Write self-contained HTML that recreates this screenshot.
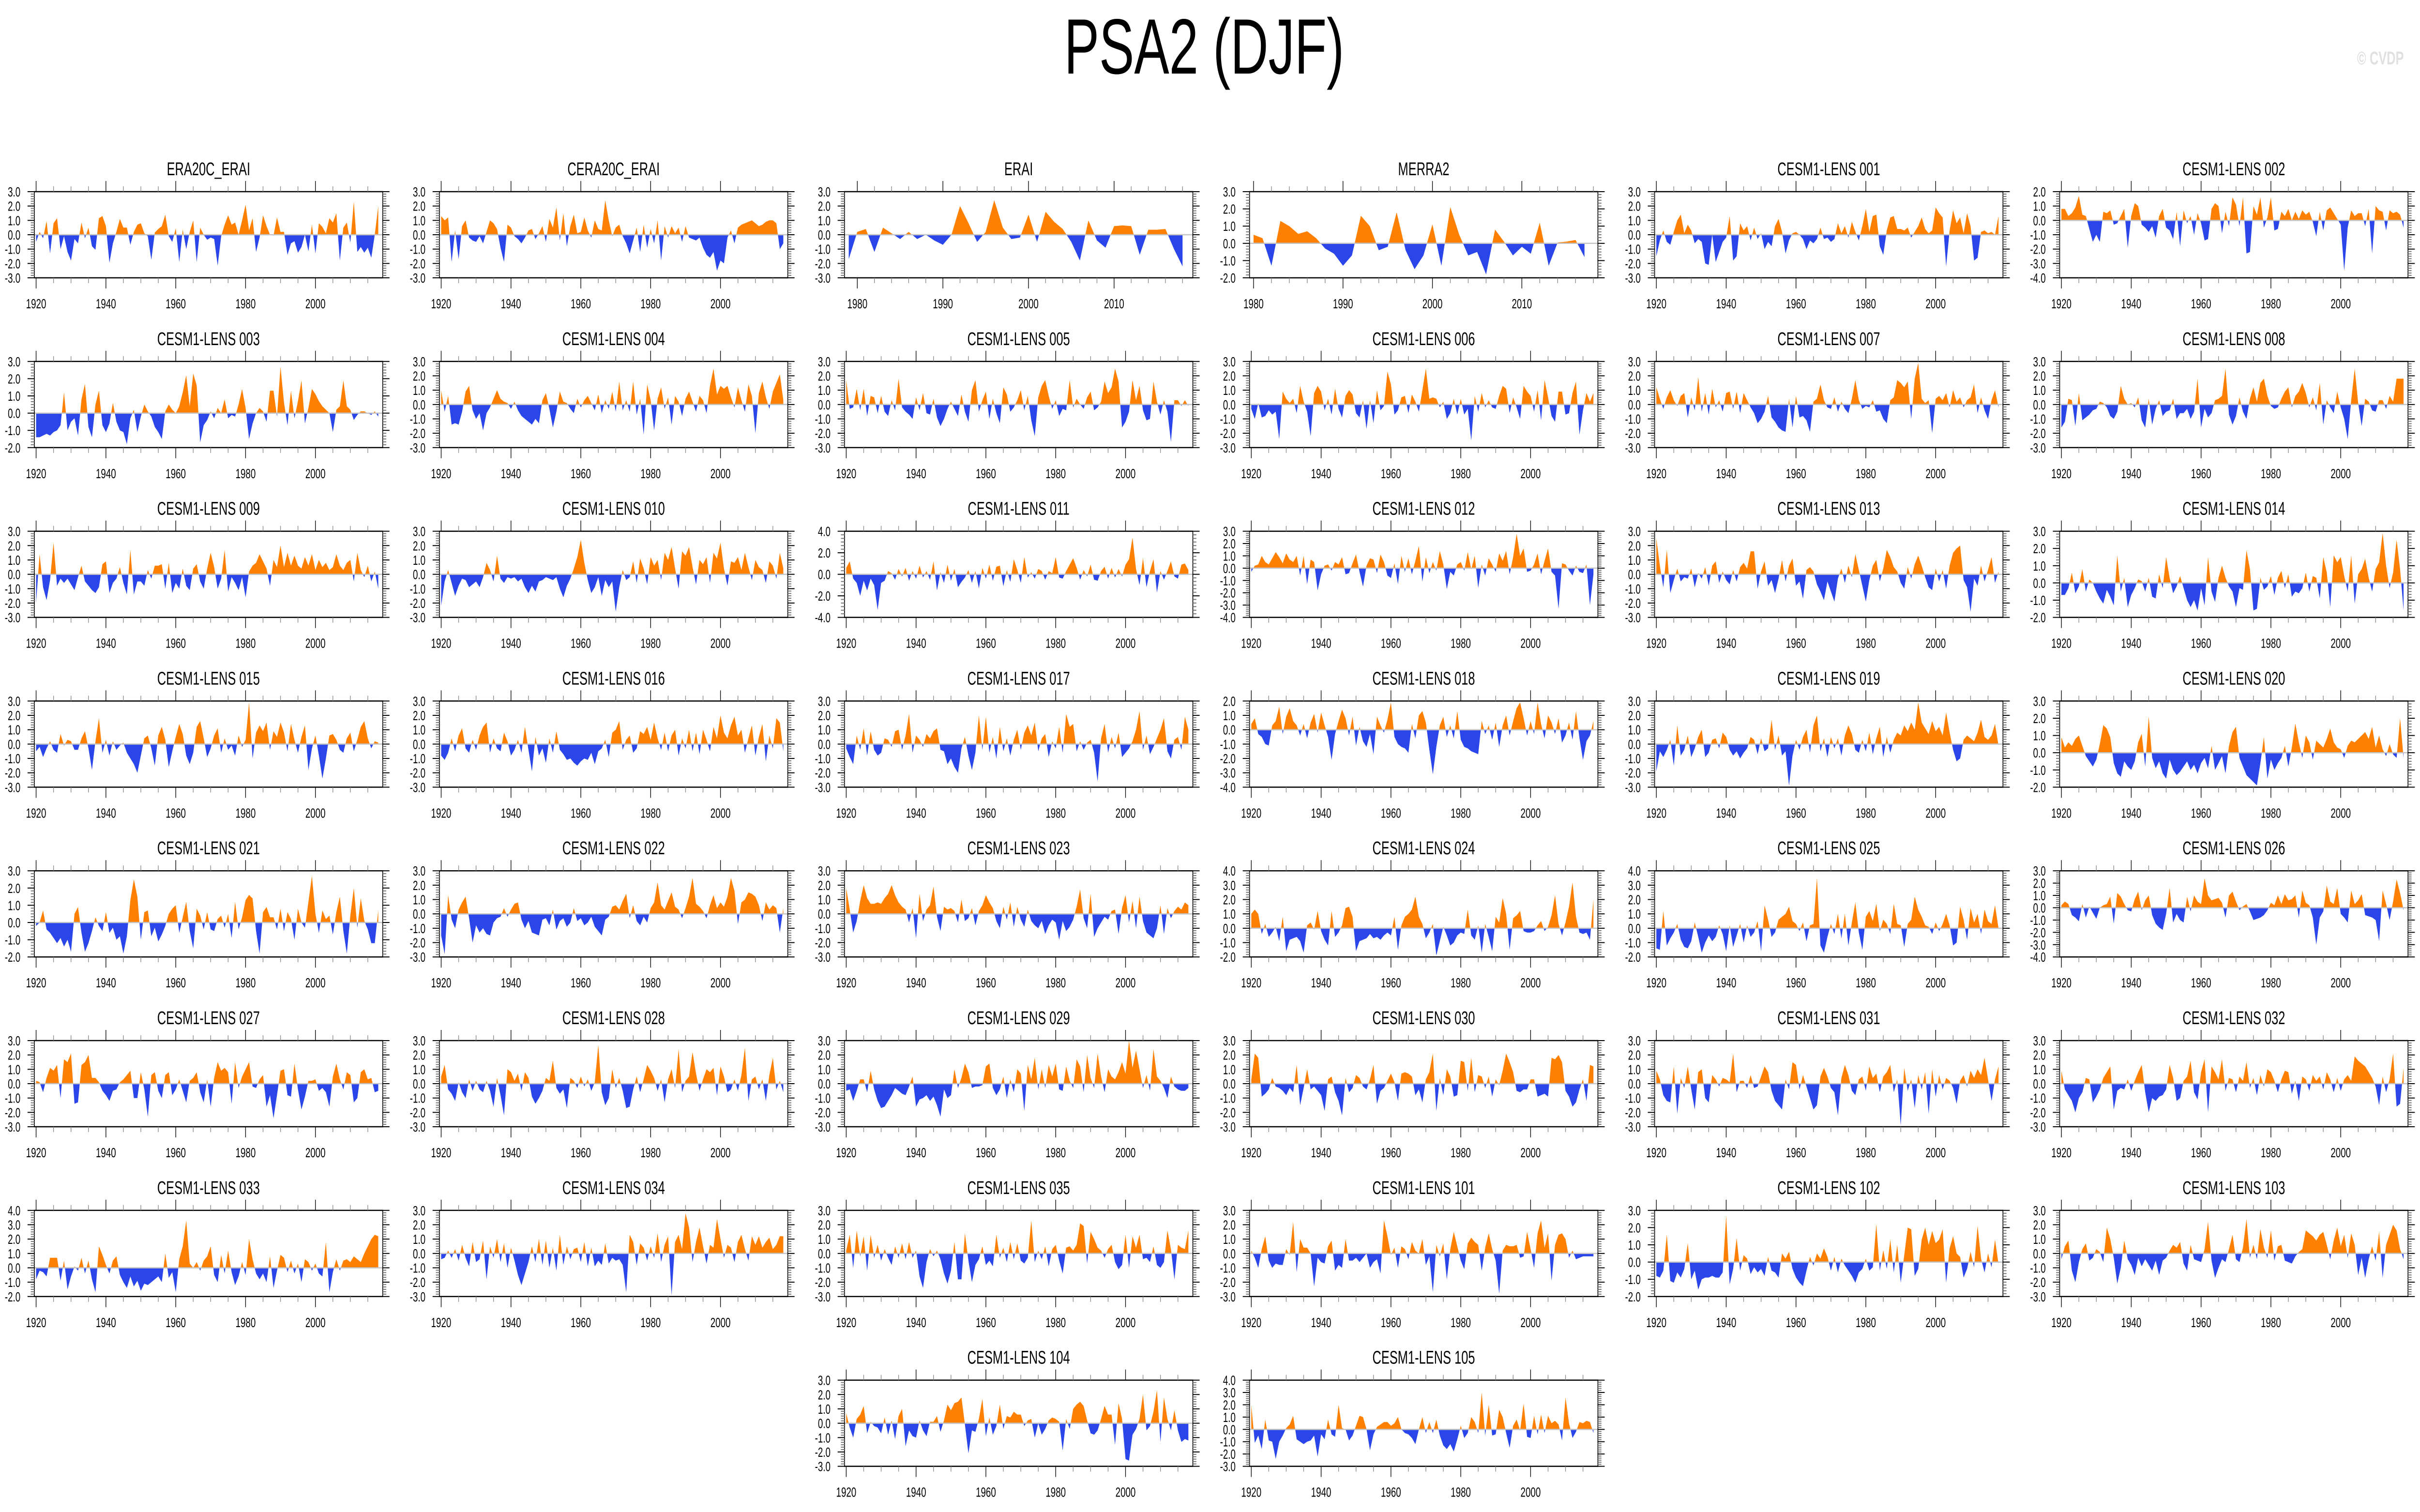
<!DOCTYPE html>
<html>
<head>
<meta charset="utf-8">
<style>
html,body{margin:0;padding:0;background:#fff;overflow:hidden;width:100vw;height:100vh;}
svg{display:block;font-family:"Liberation Sans",sans-serif;width:100vw;height:100vh;}
</style>
</head>
<body>
<svg id="fig" xmlns="http://www.w3.org/2000/svg" viewBox="0 0 7468 3124" preserveAspectRatio="none">
<rect x="0" y="0" width="7468" height="3124" fill="#ffffff"/>
<text x="3716" y="152" font-size="162" text-anchor="middle" fill="#000">PSA2 (DJF)</text>
<text x="7418" y="133" font-size="38" font-weight="bold" text-anchor="end" fill="#e0e0e0">© CVDP</text>
<g id="panels"></g>
</svg>
<script>
// ---------- data (DJF PSA2 index, one value per year) ----------
const s_era20c = [-0.5,0.2,-0.25,0.95,-1.3,0.8,1.15,-1.0,-0.1,-1.2, -1.8,-0.3,-0.6,0.85,-0.25,0.5,-0.8,-1.05,1.15,1.3, 0.6,-1.95,-0.6,0.2,1.1,0.5,0.5,-0.7,0.2,0.7, 0.8,0.1,-0.1,-1.75,0.15,0.4,0.6,1.4,-0.1,-0.5, 0.45,-1.9,0.35,-1.0,0.2,1.0,-1.9,0.5,0.0,-0.35, -0.2,-0.3,-2.15,-0.1,0.7,1.35,0.7,0.85,0.0,1.0, 2.1,0.3,1.15,-1.2,-0.2,1.35,0.6,0.0,-0.05,1.2, 0.2,0.2,-1.4,-0.6,-0.45,-1.25,-0.85,0.0,-1.15,0.7, -1.3,0.8,0.55,0.1,1.15,0.85,1.5,-1.8,0.5,0.85, -0.55,2.3,-1.2,-0.85,-1.25,-0.9,-1.6,0.0,2.0];
const s_cera20c = [1.3,1.0,1.2,-1.9,0.3,-1.7,0.6,1.0,-0.2,-0.4, -0.5,-0.1,-0.6,0.2,1.0,0.8,0.4,-0.9,-1.9,0.7, 0.5,-0.1,-0.3,-0.6,-0.2,0.3,0.4,-0.3,0.1,0.6, -0.5,1.1,0.5,1.9,-0.4,1.5,-0.8,0.6,1.4,0.1, 0.2,1.2,0.3,-0.2,1.0,0.4,0.3,2.4,1.0,-0.1, 0.5,0.7,-0.1,-0.6,-1.3,-0.4,0.5,-1.2,0.7,-0.9, 0.4,-0.6,1.0,-1.8,0.6,-0.2,0.6,0.1,0.5,-0.5, 0.6,-0.2,-0.3,-0.4,-0.2,-0.9,-1.4,-1.6,-1.2,-2.5, -1.8,-2.0,-0.2,0.3,-0.6,0.5,0.7,0.8,0.9,1.0, 0.8,0.6,0.7,0.9,1.0,1.0,0.8,-1.0,-0.6];
const s_erai = [-1.7,0.2,0.4,-1.2,0.5,0.1,-0.3,0.2,-0.3,0.0, -0.4,-0.7,0.0,2.0,0.8,-0.5,0.2,2.4,0.5,-0.3, -0.2,1.4,-0.5,1.6,0.9,0.4,-0.5,-1.8,1.0,-0.4, -0.9,0.6,0.65,0.6,-1.4,0.35,0.35,0.4,-1.0,-2.2];
const s_merra2 = [0.5,0.3,-1.3,1.3,1.0,0.55,0.7,0.3,-0.3,-0.6, -1.3,-0.7,1.6,1.0,-0.4,-0.2,1.8,-0.4,-1.5,-0.7, 1.1,-1.3,2.1,0.5,-0.7,-0.5,-1.8,0.8,0.1,-0.7, -0.2,-0.6,1.2,-1.3,0.05,0.1,0.2,-0.8];
const s_001 = [-1.5,-0.4,0.3,-0.5,-0.7,0.2,1.0,1.4,0.1,0.7, 0.3,-0.6,-0.3,-0.5,-2.0,-2.1,0.0,-1.9,-1.2,-0.5, -0.2,1.3,-1.8,-1.5,0.8,0.3,0.6,-0.4,0.5,-0.3, 0.1,-1.0,-0.5,-0.8,0.6,1.1,0.2,-1.3,-0.4,0.1, 0.2,0.0,-0.3,-1.0,-0.4,-0.6,-0.3,0.5,-0.3,-0.2, -0.5,-0.3,0.8,0.1,0.6,-0.2,0.9,0.2,-0.4,0.6, 1.8,0.2,1.3,1.4,-0.8,-1.4,0.3,1.2,1.3,0.4, 0.4,0.3,0.5,-0.2,0.2,0.6,1.2,0.4,0.1,0.3, 1.9,1.5,1.2,-2.2,0.3,1.7,0.8,1.2,0.1,1.5, 0.6,-1.8,-1.6,0.2,0.3,0.1,0.2,0.0,1.3];
const s_002 = [0.8,0.8,0.3,0.5,0.9,1.7,0.4,0.3,-0.6,-1.5, -1.0,-1.5,0.6,0.5,0.7,-0.3,-0.2,0.3,0.8,-1.9, 0.3,1.2,1.0,-0.3,-0.5,-0.8,-0.4,-1.2,0.3,0.8, -0.5,-0.7,-1.3,0.6,-1.8,0.7,-0.2,0.3,-1.0,0.5, -0.2,-1.4,-1.3,0.8,1.2,1.0,-0.9,0.6,-0.4,1.6, 1.1,-0.4,1.6,-2.3,-2.2,1.0,0.4,1.6,-0.5,0.2, 1.6,-0.7,-0.6,0.6,0.3,0.8,0.0,0.6,0.1,0.7, 0.4,0.6,-0.1,-1.1,0.6,-0.7,0.7,0.9,0.5,0.1, -0.3,-3.5,-0.5,0.7,0.3,0.5,0.5,-0.4,0.8,-2.3, 1.0,0.7,0.6,-0.7,0.7,0.5,0.6,0.4,-0.5];
const s_003 = [-1.4,-1.4,-1.3,-1.2,-1.3,-1.1,-1.0,-0.7,1.2,-1.0, -0.5,-0.3,-1.3,0.8,1.7,-0.8,-1.4,0.5,1.3,-0.7, -1.1,-0.6,0.6,-0.5,-1.0,-1.1,-1.8,-0.3,0.2,-1.1, -0.2,0.5,0.1,-0.2,-0.8,-1.1,-1.5,0.1,0.5,0.2, 0.0,0.4,1.2,2.2,0.4,2.3,1.6,-1.7,-0.7,-0.4, 0.1,-0.3,0.3,0.0,0.8,-0.3,-0.1,-0.2,0.5,1.4, 0.3,-1.5,-0.6,0.0,0.3,0.1,-0.5,1.3,1.3,-0.2, 2.7,0.6,-0.7,1.3,-0.3,0.7,1.9,-0.6,0.3,1.4, 1.1,0.7,0.4,0.2,0.0,-1.1,0.2,0.4,1.9,0.4, 0.2,-0.4,-0.1,0.1,0.1,0.0,-0.1,0.1,-0.2];
const s_004 = [1.0,-0.5,0.6,-1.4,-1.3,-1.4,-0.5,0.9,1.3,-0.4, -1.0,-0.6,-1.8,-0.6,-0.2,0.4,1.0,0.4,0.2,0.1, -0.3,0.2,-0.4,-0.8,-1.0,-1.2,-1.4,-1.0,-1.3,0.3, 0.8,-0.3,-1.6,-0.5,0.9,0.2,0.1,-0.3,-0.6,0.4, -0.2,0.3,0.6,0.1,-0.4,0.7,-0.6,0.3,-0.3,0.9, -0.5,1.6,-0.4,0.3,-0.5,1.6,-0.7,0.4,-2.1,1.4, 0.3,-1.8,0.4,1.2,-0.3,0.5,-1.4,0.6,0.2,-0.8, 0.4,0.9,0.2,-0.5,0.6,0.3,-0.6,1.3,2.5,0.7, 1.3,1.1,1.3,0.5,-0.2,1.2,0.3,-0.5,1.4,0.6, -2.0,0.8,1.6,0.5,-0.3,0.9,1.5,2.1,0.3];
const s_005 = [1.7,-0.3,-0.2,1.1,-0.4,1.1,-0.8,0.6,0.5,-0.6, 0.6,-0.5,-0.8,0.3,-0.4,1.8,-0.2,-0.5,-0.7,-1.0, 0.5,-0.4,0.8,-0.6,-0.7,0.4,-0.9,-1.5,-1.0,-0.3, 0.2,-0.3,-0.8,0.7,-0.5,-1.2,1.0,1.7,-0.5,0.3, 0.9,-1.0,0.4,-0.6,-1.3,1.2,0.7,-0.5,-0.2,0.3, 1.0,-0.4,0.6,-1.1,-2.2,0.5,1.3,1.7,0.6,-0.3, 0.3,-0.8,-0.3,-0.4,1.7,-0.2,0.4,0.0,-0.3,0.5, 0.9,-0.4,-0.2,0.2,1.6,0.8,1.2,2.5,1.6,-1.6, -1.2,-0.5,1.7,0.3,1.3,-0.4,-1.1,-1.0,1.6,0.2, -0.7,0.3,-0.5,-2.6,0.3,0.3,-0.1,0.3,-0.1];
const s_006 = [-0.3,-1.0,0.1,-0.9,-0.8,-0.4,-0.7,-0.5,-2.4,0.9, 0.4,0.1,0.4,-0.6,1.3,0.2,-0.5,-2.2,0.8,1.3, 0.9,-0.4,0.4,-0.7,1.1,-0.3,-0.9,0.6,1.0,0.7, -0.6,-0.9,0.3,-1.7,0.3,-1.3,1.0,-0.4,-0.1,2.3, 1.4,-0.7,-0.4,0.5,0.6,-0.6,0.7,0.2,-0.5,1.0, 2.5,0.4,0.5,0.4,-0.2,0.2,-1.0,-0.6,0.4,-0.7, 0.4,-0.7,-0.3,-2.5,0.6,-0.5,0.8,-0.2,0.3,-0.2, -0.3,0.6,1.3,1.1,-0.6,0.5,-0.2,-1.0,1.3,0.9, 0.6,-0.5,1.0,-1.1,1.7,0.5,-0.8,-1.2,0.9,0.9, -0.7,-0.6,0.8,1.6,-2.1,-0.4,0.8,0.2,0.8];
const s_007 = [1.2,0.4,-0.3,0.5,1.0,0.3,-0.1,0.6,0.8,-0.9, 0.5,-0.4,1.9,-0.5,0.8,-0.7,1.1,-0.2,0.3,-0.5, 0.8,0.9,-0.3,0.9,-0.6,0.8,0.3,-0.2,-0.6,-1.3, -1.0,-0.5,0.6,-0.9,-1.2,-1.6,-1.8,-1.9,0.4,-1.6, 0.6,-0.9,-0.8,-1.1,-1.9,0.2,0.4,1.4,0.3,-0.2, -0.3,0.5,-0.5,0.2,-0.3,-0.6,0.4,1.7,0.3,-0.3, -0.1,-0.2,0.3,-0.5,-0.4,-1.0,-1.3,0.3,0.5,1.7, 1.5,1.2,1.6,-1.0,1.8,2.9,0.4,0.1,0.3,-2.0, 0.4,0.6,0.3,0.8,-0.2,1.0,0.2,0.5,-0.2,0.3, 0.5,1.4,-0.6,0.5,-0.4,-1.0,0.3,1.0,-0.2];
const s_008 = [-1.6,-1.2,0.4,0.3,-1.5,0.8,-1.1,-0.9,-0.7,-0.4, -0.3,0.2,0.1,-0.2,-0.8,-1.0,-0.5,1.3,0.4,0.0, 0.1,-0.2,0.5,-1.1,-1.6,0.4,-1.4,-0.3,0.3,-0.8, -0.5,-0.4,0.4,-1.0,-0.6,-0.6,-0.3,-1.0,-0.5,1.8, -1.6,-0.3,-0.9,-0.6,0.3,0.4,0.6,2.5,-0.7,-1.4, -0.8,0.5,-0.5,-1.0,0.4,1.2,0.2,1.5,1.8,0.6, -0.1,-0.3,-0.2,0.4,0.9,1.2,-0.2,0.6,0.9,1.5, 0.8,-0.2,0.5,-0.4,1.5,-1.4,0.3,-0.2,-0.6,0.9, -0.2,-1.0,-2.4,0.3,2.5,0.1,-1.5,0.4,0.2,-0.4, -0.5,0.3,0.3,-0.3,0.6,0.2,1.8,1.8,1.8];
const s_009 = [-2.0,1.4,-0.9,-1.8,-0.4,2.2,-0.8,-0.3,-0.6,-0.3, -0.7,-1.1,-0.2,0.6,-0.5,-0.8,-1.1,-1.3,-0.9,0.7, 0.9,-1.3,-0.6,-0.3,0.5,-0.6,-1.4,1.7,-1.4,-0.5, -0.5,-0.8,0.3,-0.3,0.6,0.6,0.7,-1.0,0.8,-1.3, -0.6,-1.0,0.4,-0.8,-1.1,0.4,0.7,-0.5,-1.0,0.4, 1.5,0.5,-1.0,-0.3,1.7,-1.2,-0.2,-0.6,-1.1,-0.2, -1.6,0.2,0.6,0.8,1.4,0.9,0.4,-0.8,1.0,0.5, 2.0,0.5,1.5,0.6,1.3,0.6,0.4,1.2,0.6,1.4, 0.3,1.0,0.5,0.8,0.3,0.5,1.4,0.6,0.3,0.8, 1.0,-0.5,1.5,0.3,-0.2,0.6,-0.5,0.2,-1.0];
const s_010 = [-2.2,-0.5,0.3,-0.6,-1.5,-0.8,-0.3,-0.4,-0.9,-0.7, -0.5,-0.9,-0.2,0.8,0.3,-0.5,1.3,-0.3,-0.6,-0.2, -0.3,-0.2,-0.5,-0.3,-0.9,-1.3,-0.8,-1.2,-0.5,-0.4, -0.2,-0.3,-0.4,-0.2,-1.0,-1.6,-0.8,-0.3,0.4,1.2, 2.4,0.8,-0.4,-1.3,-0.9,-0.2,-1.5,-0.4,-0.9,-0.5, -2.6,-0.9,0.3,-0.4,-0.2,0.9,-0.6,1.1,0.4,-0.7, 1.2,0.6,1.0,-0.4,1.5,1.0,1.9,0.4,-1.0,1.6, 1.3,1.9,0.5,-0.7,1.0,0.7,1.2,-0.6,1.5,1.1, 2.2,0.4,-0.8,0.9,0.8,1.2,0.3,1.5,0.5,-0.4, 1.0,0.5,0.3,-0.6,0.9,0.6,-0.3,1.5,0.4];
const s_011 = [0.6,1.2,-0.4,-0.8,-2.0,-0.6,-1.5,-0.4,-1.0,-3.3, -0.8,-0.6,0.3,0.1,-0.5,0.5,-0.2,0.6,-0.6,0.3, -0.4,0.8,-0.3,0.3,-0.5,1.2,-1.5,0.2,-0.8,0.9, -0.6,0.5,-1.2,-0.7,-0.3,0.4,-0.8,0.3,-1.3,0.6, -0.4,0.9,-0.6,0.7,0.8,-1.1,0.4,-0.7,1.4,0.4, -0.8,1.6,-0.3,0.2,-0.4,0.5,0.3,-0.5,0.3,0.1, 1.6,-0.3,-0.4,0.3,0.9,1.5,0.6,-0.5,0.4,-0.2, 0.9,-0.5,-0.6,0.3,0.7,-0.4,0.6,-0.3,0.5,-0.2, 0.9,1.4,3.4,0.5,-1.0,1.5,-1.2,0.3,1.4,-1.7, 0.3,-0.5,0.3,1.2,-0.2,-0.4,0.9,1.0,0.4];
const s_012 = [-0.3,0.2,0.3,1.0,0.5,0.3,0.8,1.3,0.9,0.4, 1.2,0.7,0.5,1.0,-0.6,1.0,-1.3,0.7,0.5,-1.8, -0.5,0.2,0.3,-0.2,0.5,0.3,0.9,-0.5,-0.4,0.4, 1.1,-0.3,-1.5,0.2,0.8,0.7,-0.4,1.1,0.5,-0.6, -0.8,0.4,-1.3,1.0,-0.3,0.8,-0.5,0.6,1.8,-1.1, 0.9,-0.4,0.5,-0.2,1.4,0.3,-1.7,-0.3,-0.6,0.3, 0.5,-0.2,1.3,-0.1,1.0,-1.6,0.3,-0.6,0.8,0.3, -0.3,1.2,0.6,1.4,-0.5,0.9,2.8,1.0,1.6,-0.3, -0.2,0.3,1.2,-0.5,0.6,1.6,-0.3,-0.6,-3.3,0.4, 0.3,-0.2,-0.6,0.2,-0.3,-0.4,0.3,-3.0,-0.5];
const s_013 = [2.5,0.6,-0.9,1.7,-1.3,-0.4,0.4,-0.5,-0.2,-0.3, 0.4,-0.9,0.1,-0.3,0.5,-0.8,0.6,0.9,-0.6,0.2, -0.4,-0.7,0.3,-0.5,0.5,0.8,0.4,1.6,1.6,-1.0, 0.2,0.9,-0.8,-0.4,-1.3,-0.3,1.0,-0.5,0.6,1.1, -0.8,-0.5,-1.7,0.3,0.5,0.2,-0.7,-1.2,-1.8,-0.5, -1.2,-1.9,-0.3,0.4,-0.6,0.6,-0.2,1.4,0.3,-0.8, -1.9,-0.4,0.6,1.0,-0.5,0.4,1.7,1.2,0.5,0.2, -0.6,-1.0,0.5,-0.3,0.7,1.3,0.6,-0.2,-0.9,-1.1, 0.4,-0.5,0.3,-1.0,0.6,1.5,1.8,2.0,-0.4,-0.9, -2.6,-0.3,-0.8,0.6,-0.5,0.3,1.2,-0.6,0.2];
const s_014 = [-0.7,-0.7,-0.3,0.6,-0.6,-0.2,0.8,-0.5,0.2,0.0, -0.5,-0.9,-1.2,-0.4,-0.8,-1.3,1.6,-0.5,0.3,-1.4, -0.7,-0.3,0.2,0.1,-0.5,0.3,-0.8,-0.9,0.5,-0.3, 1.5,0.3,-0.6,-0.2,0.4,-0.3,-1.0,-1.4,-1.0,-1.6, -0.3,-1.3,1.5,-0.5,-1.1,0.3,1.0,0.3,-0.2,-0.5, -1.4,-0.3,-0.4,1.9,0.8,-1.6,-1.5,0.3,-0.4,-0.2, 0.4,-0.7,0.3,0.7,-0.3,0.5,-0.8,-0.5,-0.6,-0.3, 0.6,-0.5,0.4,0.3,-0.9,1.5,0.6,-1.4,1.6,1.2, 1.5,0.4,-0.5,1.6,-1.2,0.5,0.8,1.4,0.3,-0.5, 0.8,1.2,2.9,1.0,-0.3,0.6,2.5,0.8,-1.6];
const s_015 = [-0.5,-0.2,-0.9,-0.3,0.2,-0.4,-0.6,0.7,-0.1,0.3, 0.2,-0.4,-0.4,0.4,0.9,-0.3,-1.8,0.2,1.8,-0.6, 0.3,-0.8,0.2,-0.4,-0.1,0.1,-0.6,-1.0,-1.4,-2.0, -0.8,0.4,0.6,-0.3,-1.5,0.6,1.2,0.3,-1.6,-0.5, 0.5,1.4,0.7,-0.8,-1.4,-0.6,1.2,1.6,0.4,-0.9, -0.3,0.6,1.1,-0.6,0.4,-0.4,-0.1,-0.8,0.6,-0.2, 0.3,2.9,-1.0,0.8,1.3,0.9,1.5,-0.4,0.9,0.5, 1.5,0.8,-0.5,1.4,0.3,-0.6,0.5,1.3,-1.8,-0.3, 0.6,-0.8,-2.4,-1.0,0.6,0.7,0.3,-0.4,-0.6,0.4, 0.8,-0.5,0.3,1.2,1.6,0.4,-0.3,0.2,0.1];
const s_016 = [-0.8,-1.1,-0.6,0.4,-0.5,0.6,1.1,-0.3,-0.6,0.3, -0.4,0.6,1.2,1.5,-0.6,0.4,-0.3,-0.5,0.8,0.2, -0.8,-0.4,0.3,-0.6,1.2,-0.4,-1.9,0.5,-0.8,-0.3, -1.3,0.4,-0.6,0.9,-0.4,-0.7,-1.1,-1.0,-1.3,-1.5, -1.2,-1.0,-1.1,-0.6,-1.4,-0.5,-0.3,0.3,-0.9,0.8, 1.0,1.6,-0.4,0.3,0.6,-0.6,-0.3,0.9,0.7,1.2, 0.3,1.5,0.4,-0.4,0.8,-0.5,0.6,1.0,-0.8,0.4, -0.3,1.0,-0.5,0.8,-0.7,1.0,0.3,-0.5,1.2,0.4, 2.0,0.8,0.4,1.3,1.9,0.6,1.0,-0.6,0.4,1.3, -0.8,0.5,1.4,-1.2,0.6,-0.3,1.8,1.5,-0.5];
const s_017 = [-0.3,-0.9,-1.4,0.6,-0.4,1.1,-0.8,0.9,-0.4,-0.8, -0.6,0.4,0.3,-0.2,0.9,1.0,-0.4,0.6,2.1,-0.6, 0.6,0.3,-0.2,0.7,0.4,0.9,1.1,-0.4,-0.5,-1.4, -1.0,-1.6,-2.0,-0.3,0.5,-0.8,-1.8,-0.6,2.0,-0.4, 1.9,-0.6,0.5,-1.0,1.2,-0.5,0.4,-0.8,0.3,1.0, -0.4,0.8,1.3,0.6,1.5,-0.5,0.4,0.7,-0.9,0.2, -0.3,1.2,-0.6,2.1,1.2,1.4,-0.5,0.2,-0.4,0.1, 0.3,-0.6,-2.6,0.4,1.4,-0.6,0.5,-0.3,0.8,-0.9, -0.6,-0.3,0.2,1.0,2.3,-0.4,0.6,-0.7,-0.2,0.4, 1.0,1.8,-0.5,-1.0,0.3,0.5,-0.4,1.9,1.0];
const s_018 = [0.4,0.8,-0.3,-0.5,-1.0,-1.1,0.3,0.6,1.6,-0.3, 0.9,1.5,0.6,0.3,-0.4,0.4,-0.6,0.5,1.1,-0.2, 1.2,0.3,-0.5,-2.1,-0.3,0.6,1.4,0.8,-0.4,0.9, -1.1,0.2,-0.8,-1.2,-0.3,-1.7,0.9,0.3,-0.2,0.7, 1.9,-0.5,-1.0,-1.2,-1.3,-1.6,0.4,-0.6,1.0,1.3, 0.5,-1.4,-3.1,-1.2,0.3,0.9,-0.5,0.3,-0.6,1.3, -0.7,-1.2,-1.3,-1.5,-1.6,-1.7,0.6,-0.3,0.3,-0.7, 0.5,-1.2,0.3,1.0,-0.4,0.6,1.5,1.9,0.8,-0.4, 0.6,-0.3,1.9,0.4,-0.6,1.0,0.5,-0.3,0.8,-0.9, -0.4,0.5,-0.7,1.3,-0.6,-2.1,-0.8,-0.4,0.6];
const s_019 = [-1.9,-0.5,-0.9,-0.4,0.3,-1.5,1.3,-0.8,-0.4,0.6, -0.9,-0.3,0.5,1.0,-0.9,-0.6,0.3,0.4,-0.3,0.8, 0.5,-0.4,-0.8,-0.5,-1.0,-0.6,-0.3,0.5,0.3,-0.7, 0.4,-0.5,-0.3,1.7,-0.4,0.6,-0.8,-0.5,-2.9,-0.8, 0.3,-0.4,0.5,1.0,-0.6,1.3,2.0,-0.5,0.4,-0.9, 0.5,-0.3,0.4,-0.8,0.6,1.3,0.7,-0.4,-0.6,0.3, -0.5,0.8,-0.7,0.4,1.2,-0.9,0.5,-0.6,0.3,0.8, 0.6,1.3,0.9,1.5,1.0,2.9,1.5,1.1,0.7,1.6, 0.9,1.2,0.6,2.2,0.8,-0.4,-1.2,-1.0,0.3,0.6, 0.4,0.2,0.8,1.7,0.5,0.3,0.6,1.4,-0.1];
const s_020 = [0.9,0.3,0.6,0.4,0.8,1.0,0.4,-0.2,-0.5,-0.8, -0.4,0.5,1.6,1.4,0.9,-0.6,-1.2,-1.4,-0.5,-0.8, -1.0,-0.5,0.6,1.1,-0.8,2.1,-0.3,-0.9,-0.5,-1.2, -1.5,-0.4,-1.0,-1.3,-1.1,-0.8,-0.5,-1.0,-0.7,-1.2, -0.6,-0.3,-0.9,0.4,-1.0,-0.6,-0.2,-1.2,0.4,1.2, 1.5,-0.3,-0.8,-1.3,-1.5,-1.7,-1.9,-0.6,0.9,-1.5, -0.4,-1.0,-0.6,-0.3,0.4,-0.8,0.3,1.7,0.6,-0.3, 1.0,0.6,-0.4,0.7,0.5,0.3,0.8,1.4,0.6,0.3, 0.2,-0.3,0.4,0.7,0.6,0.8,1.0,1.2,0.8,1.5, 0.3,1.0,0.2,-0.2,0.5,-0.1,-0.3,2.0,-0.3];
const s_021 = [-0.2,0.0,0.7,-0.4,-0.6,-0.9,-1.2,-0.9,-1.4,-1.0, -1.7,0.5,0.9,-0.6,-1.7,-1.2,-0.5,0.3,-0.2,-0.5, 0.6,-0.6,-0.3,-1.0,-0.8,-1.8,-0.8,1.3,2.5,1.5, -1.0,0.6,0.7,-0.8,-0.3,-1.1,-0.7,-0.2,0.5,0.8, 1.0,-0.6,0.3,1.2,-0.5,-1.5,0.8,0.4,-0.4,0.6, -0.4,-0.5,0.2,0.4,-0.3,0.5,-0.9,1.2,-0.4,0.3, 1.3,1.6,1.4,-0.5,-1.8,0.6,0.9,0.3,0.3,-0.4, 0.8,-0.5,0.6,0.2,-1.0,0.8,0.0,-0.3,1.2,2.7, 0.5,-0.6,0.7,0.2,0.4,-0.7,0.6,1.5,-0.5,-1.8, 0.4,2.0,-0.3,1.4,0.1,-0.4,-1.2,-1.2,0.7];
const s_022 = [-1.5,-2.8,1.3,-0.4,-1.0,0.3,0.8,1.2,-0.3,-2.0, -0.8,-1.3,-1.0,-1.4,-1.5,-0.6,-0.3,-0.2,0.4,-0.2, 0.3,0.7,0.8,-0.4,-1.0,-0.5,-1.3,-1.4,-1.5,-0.4, -0.3,-0.8,0.3,-1.1,-0.5,-0.3,-0.9,-0.6,0.4,-0.5, -0.3,-0.8,-0.6,-0.2,-0.9,-1.2,-1.5,-0.4,-0.2,0.5, 0.6,0.3,0.9,1.4,-0.3,0.6,-0.5,-0.8,-0.2,-0.6, 0.4,0.8,2.2,0.6,0.3,0.9,1.5,0.5,0.3,-0.3, 0.4,1.2,2.5,0.7,0.5,0.2,-0.3,0.6,1.3,0.4, 0.8,0.5,1.2,2.5,1.6,-0.7,0.8,1.0,1.5,1.4, 1.2,0.6,-0.5,0.8,0.3,0.6,0.4,-1.3,0.4];
const s_023 = [1.8,0.3,-1.3,-0.5,0.9,2.0,1.1,0.7,0.7,0.8, 0.7,1.1,1.4,2.0,1.3,0.8,0.5,0.3,-0.6,0.4, -1.7,1.4,-0.5,0.3,0.6,1.9,-0.2,-1.2,0.5,0.3, 0.4,0.2,-0.6,1.0,-0.5,-0.3,0.4,-0.8,0.2,0.6, 1.3,0.8,0.4,-0.5,-1.0,0.5,-0.4,0.8,-0.9,0.5, -0.4,-0.9,0.3,-0.5,-0.8,-1.0,-0.5,-1.4,-0.8,-0.4, -0.6,-1.8,-0.5,-1.2,-0.9,-0.4,0.5,1.7,-0.3,-1.0, 1.4,-1.6,-1.0,-0.6,-0.2,-0.4,0.2,0.3,-1.4,0.4, 1.3,-0.6,0.9,-1.0,1.2,-0.5,-1.3,-1.5,-1.7,-1.0, 0.6,-1.4,0.4,-0.3,0.2,0.5,0.3,0.8,0.6];
const s_024 = [1.0,1.3,1.0,-0.4,0.3,-0.6,-0.3,0.1,-0.9,0.8, -1.6,-0.8,-0.7,-0.6,-0.9,-1.7,0.2,0.4,-0.1,1.2, -0.2,-0.8,-1.2,1.2,-0.6,-0.3,0.2,1.4,1.5,0.8, -1.6,-0.9,-0.8,-0.7,-0.4,-0.7,-0.6,-0.8,-0.5,-0.3, -0.5,0.8,-1.5,0.2,0.8,1.0,1.3,2.2,0.8,0.3, -0.7,-0.3,0.3,-1.9,-0.9,0.1,-0.5,-1.2,-1.0,-0.5, -0.3,-0.4,1.3,-0.5,-0.8,0.2,-1.7,0.3,-0.6,-1.6, 0.8,0.4,2.1,1.0,-1.5,0.7,0.9,1.2,-0.2,-0.3, -0.3,-0.2,0.2,0.5,-0.2,0.1,0.9,2.3,0.3,-0.5, 0.4,1.5,3.2,0.8,-0.3,-0.4,-0.3,-0.8,2.0];
const s_025 = [-1.4,-1.5,1.2,-1.2,-0.7,-0.3,0.3,-0.8,-1.3,-1.4, -0.9,0.4,-0.6,-1.7,-1.0,-0.5,-0.9,-0.6,0.2,-0.4, -1.6,0.2,-1.3,-0.5,0.3,-1.0,0.2,-0.6,-0.3,0.5, -1.6,1.6,0.6,-0.6,-0.3,0.6,0.8,1.0,1.5,0.5, 0.3,-0.2,0.4,-0.9,0.2,0.3,3.5,-1.2,-1.7,-0.6, 0.3,-0.4,1.0,-0.7,1.0,-1.2,0.4,1.8,-0.3,-1.5, 0.8,1.2,0.5,1.7,-0.2,0.6,0.3,-0.4,1.7,0.3, 0.2,-1.3,0.3,0.6,2.2,1.3,0.8,0.2,0.1,-0.4, 0.4,-0.2,0.3,1.0,0.2,-1.2,-1.0,1.5,0.6,-0.8, 1.4,0.4,1.0,-0.4,1.3,0.5,0.3,1.6,0.0];
const s_026 = [0.2,0.5,0.3,-0.6,-0.8,-1.1,0.3,-0.8,0.1,-0.4, -0.9,0.0,0.2,0.3,0.9,-1.3,1.2,0.9,0.3,-0.2, -0.3,0.7,1.3,-0.2,0.6,1.0,-0.6,-1.3,-1.6,-1.8, -0.5,1.6,-1.2,-0.5,-1.0,-1.2,0.9,-0.3,1.0,0.5, 0.3,2.4,1.0,0.6,0.7,0.8,0.4,-0.8,1.0,1.3, 0.5,-0.2,0.1,0.3,-0.3,-1.0,-0.9,-0.8,-0.6,-0.2, 0.4,0.2,1.0,0.3,1.1,0.6,0.7,1.0,-0.8,1.4, 0.4,0.2,-0.8,-3.0,-0.8,-0.3,1.8,0.5,0.3,1.6, -0.5,-0.8,-1.2,1.4,0.3,0.6,1.1,-0.6,-0.7,-0.8, -1.0,-2.7,1.4,0.3,-1.0,0.5,2.3,1.2,-0.2];
const s_027 = [0.2,0.1,-0.6,0.4,1.1,0.9,1.3,-1.0,1.7,1.5, 2.1,-1.4,-1.3,1.3,1.5,2.0,0.4,0.4,0.1,-0.5, -0.8,-1.2,-0.5,-0.4,0.1,0.3,0.6,0.9,-1.0,-1.0, 0.8,-0.4,-2.3,0.6,0.8,-0.5,-1.0,0.6,0.8,-0.8, -0.4,0.3,-0.5,-1.3,0.2,0.4,0.8,-0.6,-1.3,0.3, -1.6,0.4,1.5,0.9,1.1,0.8,-1.4,1.5,-0.3,0.5, 1.0,1.5,-0.2,-0.3,0.3,0.6,-1.6,-0.8,-2.4,-0.8, 0.9,1.0,-0.8,-0.9,1.4,-0.4,-1.8,-0.9,0.2,0.2, 0.3,-0.5,-0.3,-0.6,-1.6,0.5,1.4,0.3,-0.4,0.8, 0.6,-1.3,-1.0,0.8,1.0,0.3,0.4,-0.6,-0.5];
const s_028 = [0.5,1.3,-0.4,-0.7,-1.2,0.1,-0.6,-1.0,0.3,-0.5, 0.2,-0.4,-0.6,0.2,-0.5,-1.6,0.4,-0.8,-2.2,1.0, 0.8,0.2,0.7,-0.5,0.8,0.4,-0.9,-1.4,-1.0,-0.5, 0.4,0.2,1.6,-0.3,-0.7,-0.4,-1.7,0.4,0.2,-0.3, 0.5,-0.2,0.3,-0.5,0.1,2.7,-0.6,-1.5,-1.0,1.0, -0.3,0.4,-0.5,-1.7,-1.6,-0.4,0.5,-0.6,0.3,1.3, 0.9,0.4,-0.5,0.3,-1.3,0.3,1.0,-0.3,2.4,-0.6, 0.2,0.5,2.2,0.7,-0.5,0.3,1.0,0.8,1.1,-0.8, 1.2,0.5,-0.6,-0.4,0.3,-0.5,0.6,2.5,-1.2,0.3, 0.5,-0.4,0.3,-1.2,0.6,1.8,-0.4,0.2,-0.6];
const s_029 = [-0.5,-0.4,-1.2,-0.5,0.3,0.3,-0.6,0.9,-0.4,-1.2, -1.7,-1.6,-1.2,-0.8,-0.3,-0.5,-0.7,-0.8,-0.2,0.5, -1.6,-1.1,-1.0,-0.8,-1.2,-0.9,-1.5,-2.3,-0.4,-1.0, -0.8,1.0,-0.3,0.4,1.4,0.8,-0.3,-0.2,-0.2,-0.1, 1.2,1.4,-0.3,-0.8,-0.4,0.5,-1.0,0.3,-0.6,1.0, 0.7,-1.9,1.3,0.3,1.8,-0.4,1.0,-0.3,1.3,0.5, 1.4,-0.4,-0.5,1.2,0.2,-0.3,1.7,1.2,-0.6,2.0, 0.4,-0.3,2.1,0.5,-0.6,1.0,0.5,0.3,0.8,1.5, 0.7,3.0,1.1,2.3,1.0,-0.3,0.6,-0.5,2.4,0.5, 0.2,-0.3,-1.0,0.5,-0.2,-0.4,-0.5,-0.5,-0.3];
const s_030 = [0.3,2.1,1.8,-0.9,-0.7,-0.4,0.4,-0.2,-0.3,-0.5, -0.8,-0.3,-0.6,1.3,-1.5,-0.3,1.0,-0.4,-0.2,-0.5, -0.8,-1.9,0.3,0.5,-0.6,-1.2,-2.2,0.4,-0.6,-0.3, 0.6,0.4,-0.2,-0.4,0.3,1.3,-1.4,-0.5,-0.3,0.2, 0.7,0.1,-1.2,0.7,0.8,0.7,0.5,-0.8,-0.4,-1.3, 0.3,0.8,2.1,-1.9,0.4,-0.8,1.0,0.5,-0.9,-0.8, 1.6,1.5,-0.5,1.8,-0.6,0.6,0.5,-0.3,0.5,-0.9, 0.3,-0.1,0.9,2.1,1.5,0.8,-0.5,-0.6,-0.4,-0.4, 0.3,0.3,-0.9,-0.8,-0.7,-0.9,1.8,1.7,2.0,1.5, -0.5,-0.9,-1.6,-1.3,-0.4,0.3,-1.2,1.3,1.2];
const s_031 = [0.9,0.3,-0.8,-1.2,-1.3,1.2,-2.1,0.4,-0.3,1.2, -0.4,-1.8,0.8,1.0,-1.0,-1.3,0.6,0.3,-0.2,0.4, 0.3,0.1,2.1,-0.6,0.2,0.2,-0.3,0.6,-0.3,-0.2, 0.5,1.2,0.8,-0.5,-1.2,-1.5,-1.8,0.3,-0.4,1.5, 1.3,-0.4,0.6,-0.2,-1.0,-1.8,-1.5,0.5,1.1,0.5, -0.3,-0.6,-2.2,0.4,1.3,0.6,-0.5,-0.8,0.3,0.5, -0.5,1.2,0.4,0.7,-0.6,0.5,0.8,1.3,-0.6,0.3, -2.9,1.1,-0.5,0.3,-1.7,0.6,-0.4,0.8,-2.1,1.0, -0.9,0.6,-0.4,0.4,0.2,-0.3,-1.4,0.2,0.6,-0.2, 0.9,0.4,1.0,0.6,1.8,0.3,-1.2,0.3,1.2];
const s_032 = [0.9,-0.4,-0.8,-1.2,-2.0,-1.0,-0.6,0.4,0.3,-1.3, -0.9,-0.4,0.4,0.8,1.2,-1.8,-0.5,-0.3,-0.4,0.3, -0.5,0.2,0.8,1.3,-0.6,-2.0,-1.0,-1.2,-0.9,-0.8, -0.4,1.3,0.4,-1.2,-1.0,0.2,0.5,1.6,-0.6,-1.1, 0.8,1.7,-2.0,1.2,0.8,0.3,1.7,-0.5,0.4,0.3, -0.6,0.5,0.2,1.5,-0.3,0.4,-0.8,0.6,-0.2,1.0, 0.8,0.2,-0.6,0.3,0.9,0.8,-0.7,0.2,-1.2,0.5, 0.3,-0.5,0.6,0.2,0.5,-0.4,0.8,0.3,-0.6,0.4, -0.5,0.3,0.6,0.2,1.9,1.6,1.4,1.2,0.8,0.4, -0.2,-1.5,0.5,-0.6,0.3,2.1,-1.6,-1.4,1.1];
const s_033 = [-0.8,-0.2,-0.3,-0.6,0.7,0.7,0.7,-0.9,0.5,-1.5, -0.6,0.1,-0.2,0.7,-0.4,0.5,-0.8,-1.7,1.5,0.9, 0.2,-0.4,0.5,0.8,-0.5,-1.0,-1.4,-0.6,-1.3,-0.9, -1.6,-1.1,-1.2,-1.0,-0.8,-0.6,-1.0,1.0,-0.7,-0.3, -1.7,0.6,1.5,3.3,0.3,0.0,0.4,-0.2,0.5,0.8, 1.5,-0.5,-1.0,0.9,-0.4,1.2,-0.3,-1.2,-0.6,0.4, -0.5,2.0,0.6,-0.4,-0.8,-0.4,-1.0,0.8,-1.4,-0.2, 0.9,0.7,-0.3,0.5,-0.4,0.3,-1.0,0.6,0.4,-0.2, 0.3,-0.4,-0.6,1.8,-1.7,-0.3,0.6,-0.2,0.5,0.6, 0.4,0.8,0.6,0.4,1.0,1.5,2.0,2.3,2.2];
const s_034 = [-0.4,-0.3,0.2,-0.3,0.3,-0.5,0.6,-0.3,-0.9,0.8, -0.6,-0.4,0.9,-1.8,0.5,-0.3,1.0,-0.6,0.7,-1.0, 0.4,-0.5,-1.5,-2.2,-1.4,-0.6,0.5,-0.6,1.0,-0.8, 0.9,-1.0,0.4,-1.2,1.3,-0.8,0.5,-0.4,0.3,0.4, -0.6,0.8,-0.9,0.4,-0.9,-0.5,-0.8,0.7,-0.7,-0.3, -0.5,-0.4,-0.8,-2.7,1.3,0.8,-0.8,0.7,0.4,-0.5, 0.5,-0.3,1.4,-0.6,0.6,1.2,-2.9,0.8,1.3,0.3, 2.8,1.8,-0.6,0.8,1.8,0.5,-0.7,0.6,0.4,2.4, 1.0,-0.3,0.6,0.4,-0.6,0.8,1.3,0.3,-0.5,1.2, 0.6,1.2,0.4,0.8,1.1,0.3,0.6,1.2,1.2];
const s_035 = [0.2,1.3,-1.0,1.6,-0.2,1.2,-1.2,1.3,-0.3,0.6, -0.5,0.3,-0.3,-0.8,0.5,-0.3,0.7,-0.4,0.8,-0.3, 0.2,-1.6,-2.4,-0.6,0.3,-0.2,0.2,-0.4,-1.4,-2.1, -1.2,0.8,-1.8,-1.8,1.4,-0.5,-2.0,-0.8,-0.4,0.5, -0.8,-0.5,-0.9,1.3,-0.3,0.4,-0.6,0.8,-0.4,0.7, -0.5,-0.7,-0.3,2.3,-0.6,0.2,-0.4,0.5,-0.9,0.3, 0.6,-0.5,-1.4,0.4,0.5,0.2,0.6,2.1,1.9,-0.7, 1.5,1.0,0.4,0.2,-0.3,0.3,0.6,-0.6,-1.1,-0.8, 1.3,-1.0,1.2,0.4,1.3,-0.4,-0.3,-0.6,0.5,-0.8, -1.0,-0.6,1.6,0.3,-1.8,0.6,0.4,0.3,1.6];
const s_101 = [0.2,-0.3,-1.0,0.3,1.2,-0.5,-1.0,-0.7,-0.8,-0.8, 0.3,-0.1,2.2,-1.3,1.0,0.4,0.4,0.0,-2.3,-0.3, -0.6,-0.7,0.5,0.9,-1.2,-0.8,-1.0,1.0,-0.5,-0.5, -0.3,-0.6,-0.3,0.0,-1.0,-0.6,-0.4,-1.4,2.3,1.2, -0.1,0.4,-1.0,0.5,0.3,-0.4,0.8,0.2,0.0,1.0, -0.8,-0.2,-2.7,0.6,-0.2,0.7,-1.8,0.3,1.5,0.5, -0.5,-1.1,0.7,1.1,0.8,0.6,-1.2,0.4,1.4,0.3, -0.5,-2.8,0.2,0.6,0.5,0.5,0.6,-0.3,-0.2,1.5, 0.3,-1.0,1.4,2.3,0.4,1.4,-1.9,0.6,1.3,1.4, 1.0,-0.3,0.2,-0.4,-0.3,-0.2,-0.2,-0.2,-0.2];
const s_102 = [-0.8,-0.9,-0.5,1.6,-1.1,-1.2,-0.6,-0.9,-0.4,1.1, -1.0,-0.5,-1.6,-1.0,-0.9,-0.9,-0.8,-0.9,-0.9,-0.6, 2.7,-1.3,-0.4,1.4,-0.5,0.4,0.2,-0.7,-0.3,-0.6, -0.4,-0.8,0.3,-0.5,-0.6,-0.9,0.5,0.2,0.6,-0.4, -0.9,-1.2,-1.4,-0.5,0.3,-0.2,0.5,0.2,0.8,0.3, -0.5,0.3,-0.6,0.2,-0.2,-0.5,-0.8,-1.2,-0.6,-0.4, 0.2,-0.5,-0.3,2.2,-0.5,0.7,-0.4,1.3,-0.6,1.0, -1.2,0.4,2.0,1.9,-0.8,-0.4,1.3,2.0,1.0,1.8, 1.1,1.3,1.9,-1.2,0.8,1.5,0.5,0.3,-0.9,-0.4, 0.6,-0.3,2.1,0.2,-0.6,0.5,-0.3,1.3,-0.1];
const s_103 = [-0.4,0.5,0.9,-1.2,-2.0,-0.6,0.3,0.7,-0.5,-0.3, 0.3,0.1,-0.6,1.8,1.0,-0.3,-2.1,-1.0,0.9,-0.4, -0.8,-1.5,-0.3,-0.9,-0.4,-0.8,-1.2,-0.5,-1.5,-0.5, -0.3,0.2,0.6,0.4,0.8,-0.7,-1.2,0.6,-0.4,-0.5, -0.6,0.3,2.2,-0.5,-1.7,-1.0,-0.4,-0.6,0.3,1.3, -0.4,-0.6,0.4,2.4,-0.3,0.6,-0.4,1.7,0.4,-0.3, 1.6,-0.5,0.5,0.6,-0.5,-0.6,-0.7,-0.2,0.1,0.3, 1.6,1.4,1.2,0.9,1.3,1.5,0.6,-0.4,0.9,1.8, 0.5,1.3,-0.3,1.4,0.6,-1.5,-0.3,-1.7,-0.4,0.5, -0.5,1.5,-1.7,0.6,1.3,2.0,1.6,0.3,-0.4];
const s_104 = [0.7,-0.3,-1.0,0.3,0.6,1.2,-0.7,0.1,-0.2,-0.3, -0.7,0.4,-0.8,0.2,-1.1,0.5,1.0,-1.6,-0.5,-0.9, -1.0,0.2,-0.5,-0.9,0.1,0.1,0.5,-0.6,0.2,1.3, 0.9,1.4,1.5,1.8,-0.1,-2.1,-0.5,-0.6,0.3,1.7, -0.9,0.4,-0.8,-0.2,1.3,-0.4,0.5,0.4,0.8,0.6, 0.6,-0.2,0.2,0.3,-1.0,0.0,-0.8,-0.4,0.2,0.4, 0.3,0.1,-1.9,0.3,-0.4,1.0,1.3,1.5,1.2,0.2, -0.7,-0.8,-0.5,0.3,1.2,0.6,0.6,-1.5,1.4,0.3, -2.5,-2.6,-0.8,-0.4,0.3,2.0,-0.5,-0.2,0.8,2.3, -1.3,1.8,0.3,-0.5,0.9,-0.5,-1.3,-1.1,-1.2];
const s_105 = [2.0,-1.1,-0.5,-1.6,0.8,-0.9,-1.0,-2.4,-1.0,-0.5, 0.1,0.4,1.1,-0.8,-1.0,-1.2,-1.0,-0.9,-0.5,-2.2, -0.4,-0.8,0.8,-0.4,-0.6,2.0,0.1,0.0,-0.9,-0.5, 0.3,1.1,1.0,0.0,-1.7,-0.4,0.2,0.4,0.6,0.6, 0.3,0.5,1.0,0.0,-0.3,-0.4,-0.7,-1.2,0.0,1.0, -0.3,0.6,-0.3,0.8,-0.5,-1.3,-1.6,-1.2,-1.8,-0.8, 0.3,-0.7,-0.3,1.0,0.6,-0.3,3.0,-0.5,2.0,-0.5, -0.4,1.6,1.0,-0.3,-1.5,0.3,0.8,-0.1,2.1,-0.6, -0.7,1.1,-0.4,1.2,-0.3,1.1,0.5,0.7,0.4,-0.9, 2.6,0.5,-0.7,-0.2,0.6,0.5,0.7,0.6,-0.3];

// panel titles in figure order
const panelNames = ["ERA20C_ERAI","CERA20C_ERAI","ERAI","MERRA2","CESM1-LENS 001","CESM1-LENS 002",
 "CESM1-LENS 003","CESM1-LENS 004","CESM1-LENS 005","CESM1-LENS 006","CESM1-LENS 007","CESM1-LENS 008",
 "CESM1-LENS 009","CESM1-LENS 010","CESM1-LENS 011","CESM1-LENS 012","CESM1-LENS 013","CESM1-LENS 014",
 "CESM1-LENS 015","CESM1-LENS 016","CESM1-LENS 017","CESM1-LENS 018","CESM1-LENS 019","CESM1-LENS 020",
 "CESM1-LENS 021","CESM1-LENS 022","CESM1-LENS 023","CESM1-LENS 024","CESM1-LENS 025","CESM1-LENS 026",
 "CESM1-LENS 027","CESM1-LENS 028","CESM1-LENS 029","CESM1-LENS 030","CESM1-LENS 031","CESM1-LENS 032",
 "CESM1-LENS 033","CESM1-LENS 034","CESM1-LENS 035","CESM1-LENS 101","CESM1-LENS 102","CESM1-LENS 103",
 "CESM1-LENS 104","CESM1-LENS 105"];
const panelSeries = [s_era20c,s_cera20c,s_erai,s_merra2,s_001,s_002,
 s_003,s_004,s_005,s_006,s_007,s_008, s_009,s_010,s_011,s_012,s_013,s_014,
 s_015,s_016,s_017,s_018,s_019,s_020, s_021,s_022,s_023,s_024,s_025,s_026,
 s_027,s_028,s_029,s_030,s_031,s_032, s_033,s_034,s_035,s_101,s_102,s_103, s_104,s_105];
const startYears = [1920,1920,1979,1980,1920,1920, 1920,1920,1920,1920,1920,1920, 1920,1920,1920,1920,1920,1920,
 1920,1920,1920,1920,1920,1920, 1920,1920,1920,1920,1920,1920, 1920,1920,1920,1920,1920,1920, 1920,1920,1920,1920,1920,1920, 1920,1920];
const yMaxes = [3,3,3,3,3,2, 3,3,3,3,3,3, 3,3,4,3,3,3, 3,3,3,2,3,3, 3,3,3,4,4,3, 3,3,3,3,3,3, 4,3,3,3,3,3, 3,4];
const yMins = [-3,-3,-3,-2,-3,-4, -2,-3,-3,-3,-3,-3, -3,-3,-4,-4,-3,-2, -3,-3,-3,-4,-3,-2, -2,-3,-3,-2,-2,-4, -3,-3,-3,-3,-3,-3, -2,-3,-3,-3,-2,-3, -3,-3];

// ---------- layout ----------
const NS = "http://www.w3.org/2000/svg";
const PL = 106, PW = 1075, PT = 396, PH = 178, CP = 1250, RP = 350.8;
const ORANGE = "#ff8000", BLUE = "#2a45ea";
const root = document.getElementById("panels");

function mk(tag, parent) {
  const el = document.createElementNS(NS, tag);
  parent.appendChild(el);
  return el;
}

function line(parent, x1, y1, x2, y2, col, w, name) {
  const el = mk("line", parent);
  el.setAttribute("x1", x1); el.setAttribute("y1", y1);
  el.setAttribute("x2", x2); el.setAttribute("y2", y2);
  el.setAttribute("stroke", col); el.setAttribute("stroke-width", w);
  
  
  return el;
}

function drawPanel(i) {
  let row, col;
  if (i < 42) { row = Math.floor(i / 6); col = i % 6; }
  else { row = 7; col = i - 40; }
  const L = PL + CP * col, T = PT + RP * row, R = L + PW, B = T + PH;
  const data = panelSeries[i], y0 = startYears[i];
  const ymin = yMins[i], ymax = yMaxes[i];
  const ystep = (ymax - ymin) >= 8 ? 2 : 1;
  let xmin, xmax, xmaj, xmin_step;
  if (y0 === 1979) { xmin = 1978.5; xmax = 2019.2; xmaj = 10; xmin_step = 2; }
  else if (y0 === 1980) { xmin = 1979.55; xmax = 2018.5; xmaj = 10; xmin_step = 2; }
  else { xmin = 1919.5; xmax = 2019.27; xmaj = 20; xmin_step = 5; }
  const xs = v => L + (v - xmin) / (xmax - xmin) * PW;
  const ys = v => T + (ymax - v) / (ymax - ymin) * PH;

  const g = mk("g", root);
  
  

  const t = mk("text", g);
  t.setAttribute("x", L + PW / 2); t.setAttribute("y", T - 34);
  t.setAttribute("font-size", "38"); t.setAttribute("text-anchor", "middle");
  t.textContent = panelNames[i];
  
  

  const pts = [];
  for (let k = 0; k < data.length; k++) {
    const yr = y0 + k, v = data[k];
    if (k > 0) {
      const pv = data[k - 1];
      if ((pv > 0 && v < 0) || (pv < 0 && v > 0)) {
        const f = pv / (pv - v);
        pts.push([yr - 1 + f, 0]);
      }
    }
    pts.push([yr, v]);
  }
  const zy = ys(0);
  function area(sign) {
    let d = "M" + xs(pts[0][0]).toFixed(1) + "," + zy.toFixed(1);
    for (const p of pts) {
      const v = sign > 0 ? Math.max(p[1], 0) : Math.min(p[1], 0);
      d += " L" + xs(p[0]).toFixed(1) + "," + ys(v).toFixed(1);
    }
    d += " L" + xs(pts[pts.length - 1][0]).toFixed(1) + "," + zy.toFixed(1) + " Z";
    return d;
  }
  const pos = mk("path", g);
  pos.setAttribute("d", area(1)); pos.setAttribute("fill", ORANGE);
  
  
  const neg = mk("path", g);
  neg.setAttribute("d", area(-1)); neg.setAttribute("fill", BLUE);
  
  

  line(g, L, zy, R, zy, "#c4c4c4", 2.5, "zero-line");

  const fr = mk("rect", g);
  fr.setAttribute("x", L); fr.setAttribute("y", T);
  fr.setAttribute("width", PW); fr.setAttribute("height", PH);
  fr.setAttribute("fill", "none"); fr.setAttribute("stroke", "#000"); fr.setAttribute("stroke-width", "2.5");
  
  

  const sub = ystep / 6;
  for (let v = ymin; v <= ymax + 1e-6; v += sub) {
    const isMaj = Math.abs(Math.round(v / ystep) * ystep - v) < 1e-6;
    const yy = ys(v);
    const len = isMaj ? 21 : 11;
    const c = isMaj ? "#000" : "#777";
    line(g, L - len, yy, L, yy, c, 2, isMaj ? "y-major-tick" : "y-minor-tick");
    line(g, R, yy, R + len, yy, c, 2, isMaj ? "y-major-tick-right" : "y-minor-tick-right");
    if (isMaj) {
      const lb = mk("text", g);
      lb.setAttribute("x", L - 43); lb.setAttribute("y", yy + 10);
      lb.setAttribute("font-size", "28"); lb.setAttribute("text-anchor", "end");
      lb.textContent = (Math.round(v / ystep) * ystep).toFixed(1);
      
      
    }
  }

  const first = Math.ceil(xmin / xmin_step) * xmin_step;
  for (let yr = first; yr <= xmax; yr += xmin_step) {
    const isMaj = yr % xmaj === 0;
    const xx = xs(yr);
    const len = isMaj ? 22 : 11;
    const c = isMaj ? "#000" : "#888";
    line(g, xx, T - len, xx, T, c, 2, isMaj ? "x-major-tick-top" : "x-minor-tick-top");
    line(g, xx, B, xx, B + len, c, 2, isMaj ? "x-major-tick" : "x-minor-tick");
    if (isMaj) {
      const lb = mk("text", g);
      lb.setAttribute("x", xx); lb.setAttribute("y", B + 63);
      lb.setAttribute("font-size", "28"); lb.setAttribute("text-anchor", "middle");
      lb.textContent = String(yr);
      
      
    }
  }
}

for (let i = 0; i < panelNames.length; i++) drawPanel(i);
</script>
</body>
</html>
